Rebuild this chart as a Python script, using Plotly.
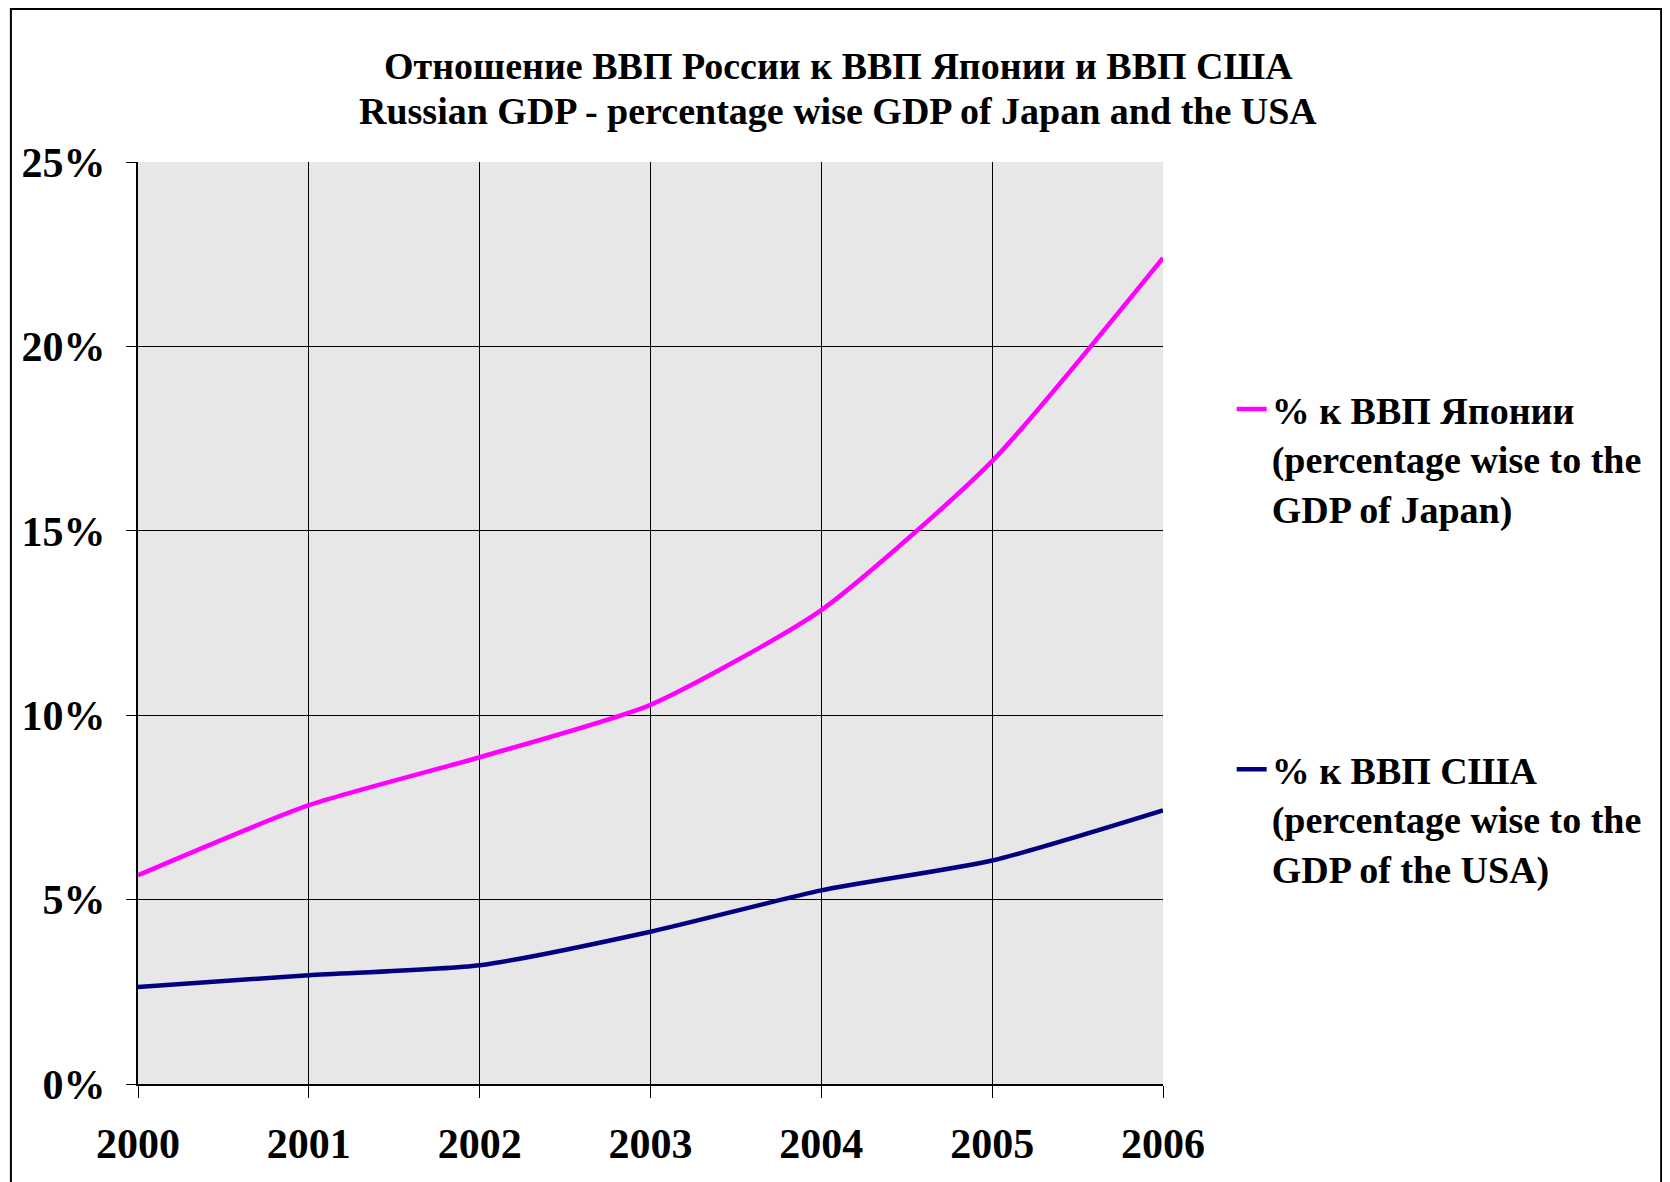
import plotly.graph_objects as go

years = [2000, 2001, 2002, 2003, 2004, 2005, 2006]
japan_pct = [5.66, 7.56, 8.86, 10.28, 12.85, 16.89, 22.4]
usa_pct = [2.63, 2.95, 3.22, 4.13, 5.25, 6.06, 7.42]
y_ticks = [0, 5, 10, 15, 20, 25]
y_tick_labels = ["0%", "5%", "10%", "15%", "20%", "25%"]

title_ru = "Отношение ВВП России к ВВП Японии и ВВП США"
title_en = "Russian GDP - percentage wise GDP of Japan and the USA"
japan_name = "% к ВВП Японии<br>(percentage wise to the<br>GDP of Japan)"
usa_name = "% к ВВП США<br>(percentage wise to the<br>GDP of the USA)"

FONT = "Liberation Serif"

fig = go.Figure()
fig.add_trace(go.Scatter(
    x=years, y=japan_pct, mode="lines", name=japan_name, legendgroup="jp",
    line=dict(color="#ff00ff", width=4.5, shape="spline", smoothing=0.6),
))
fig.add_trace(go.Scatter(
    x=years, y=usa_pct, mode="lines", name=usa_name, legendgroup="us",
    line=dict(color="#000080", width=4.5, shape="spline", smoothing=0.6),
))

# page body has an 8px margin, so positions are shifted by 8px
fig.update_layout(
    width=1670, height=1182,
    margin=dict(l=130, r=515, t=154, b=106),
    paper_bgcolor="white",
    plot_bgcolor="#e7e7e7",
    font=dict(family=FONT, color="black", size=30, weight="bold"),
    xaxis=dict(
        range=[2000, 2006], tickvals=years, ticktext=[str(y) for y in years],
        showgrid=True, gridcolor="black", gridwidth=1,
        showline=True, linecolor="black", linewidth=2,
        ticks="outside", ticklen=12, tickcolor="black", tickwidth=1,
        tickfont=dict(size=42), ticklabelstandoff=10,
        zeroline=False,
    ),
    yaxis=dict(
        range=[0, 25], tickvals=y_ticks, ticktext=y_tick_labels,
        showgrid=True, gridcolor="black", gridwidth=1,
        showline=True, linecolor="black", linewidth=2,
        ticks="outside", ticklen=10, tickcolor="black", tickwidth=1,
        tickfont=dict(size=42), ticklabelstandoff=12,
        zeroline=False,
    ),
    legend=dict(
        x=1.067, y=0.766, xanchor="left", yanchor="top",
        bgcolor="rgba(0,0,0,0)", valign="top",
        tracegroupgap=209,
        font=dict(family=FONT, size=38, weight="bold"),
    ),
    annotations=[
        dict(text=title_ru, xref="paper", yref="paper", x=0.683, y=1.104,
             xanchor="center", yanchor="middle", showarrow=False,
             font=dict(family=FONT, size=38, weight="bold")),
        dict(text=title_en, xref="paper", yref="paper", x=0.683, y=1.0553,
             xanchor="center", yanchor="middle", showarrow=False,
             font=dict(family=FONT, size=38, weight="bold")),
    ],
    shapes=[
        dict(type="rect", xref="paper", yref="paper",
             x0=-0.124, x1=1.486, y0=-0.3, y1=1.166,
             line=dict(color="black", width=2), fillcolor="rgba(0,0,0,0)"),
    ],
)

fig.write_html("out.html")
